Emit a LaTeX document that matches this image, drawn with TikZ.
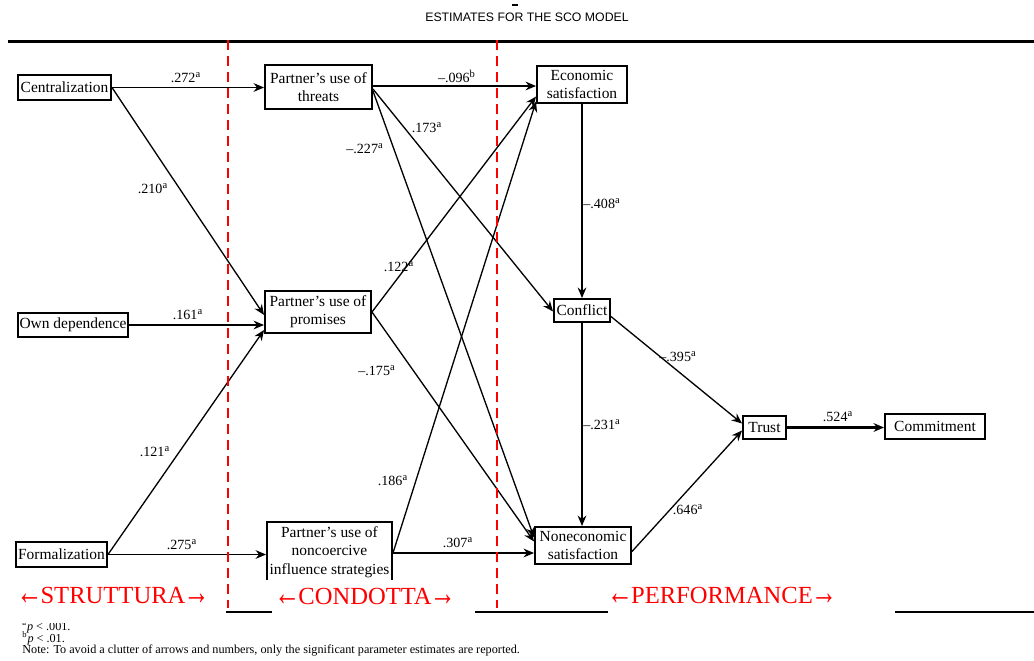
\documentclass[tikz,border=0pt]{standalone}
\usepackage{fontspec}
\setmainfont{Liberation Serif}
\newfontfamily\titlefont{Liberation Sans}
\usetikzlibrary{arrows.meta,calc}
\newcommand{\larr}{\raisebox{-0.12ex}{\scalebox{1.05}[1.5]{←}}\kern-1pt}
\newcommand{\rarr}{\kern-1pt\raisebox{-0.12ex}{\scalebox{1.05}[1.5]{→}}}
\begin{document}
\begin{tikzpicture}[x=0.02cm,y=-0.02cm,
  sz/.style 2 args={minimum width=#1*0.02cm, minimum height=#2*0.02cm},
  box/.style={draw, line width=1.1pt, inner sep=1pt, align=center,
    font=\fontsize{8.8}{10.4}\selectfont},
  link/.style={line width=0.75pt, -{Stealth[length=6pt,width=5pt,inset=2pt]}},
  est/.style={font=\fontsize{8}{8}\selectfont, inner sep=0pt},
  divider/.style={red, line width=1.3pt, dash pattern=on 5.7pt off 3.4pt},
  phase/.style={red, font=\fontsize{14}{14}\selectfont, inner sep=0pt},
  note/.style={font=\fontsize{6.95}{6.95}\selectfont, inner sep=0pt, anchor=west}]
\useasboundingbox (0,0) rectangle (1034,660);

% heading and rule
\node[font=\titlefont\fontsize{7}{7}\selectfont, inner sep=0pt] (title) at (527,17) {ESTIMATES FOR THE SCO MODEL};
\draw[line width=0.6pt] (512,5) -- (518,5);
\draw[line width=2.2pt] (8,41.5) -- (1034,41.5);

% constructs
\node[box, sz={93}{25}]  (cent)  at (64.5,87.5)  {Centralization};
\node[box, sz={110}{24}] (own)   at (73,325)     {Own dependence};
\node[box, sz={91}{25}]  (form)  at (61.5,554.5) {Formalization};
\node[box, sz={107}{44}] (thr)   at (318.5,87)   {Partner's use of\\threats};
\node[box, sz={106}{42}] (prom)  at (318,312)    {Partner's use of\\promises};
\node[box, sz={125}{60}] (nonc)  at (329.5,552)  {Partner's use of\\noncoercive\\influence strategies};
\node[box, sz={90}{37}]  (econ)  at (582,84.5)   {Economic\\satisfaction};
\node[box, sz={56}{23}]  (confl) at (582,310.5)  {Conflict};
\node[box, sz={96}{37}]  (nonec) at (583,545.5)  {Noneconomic\\satisfaction};
\node[box, sz={43}{23}]  (trust) at (764.5,427.5){Trust};
\node[box, sz={100}{25}] (comm)  at (935,426.5)  {Commitment};

% paths
\draw[link] (cent.east) -- (thr.west |- cent.east);
\draw[link] (cent.east) -- ($(prom.west)+(0,3)$);
\draw[link] (own.east) -- ($(prom.west)+(0,13)$);
\draw[link] (form.east) -- ($(prom.west)+(0,18)$);
\draw[link] (form.east) -- (nonc.west |- form.east);
\draw[link] ($(thr.east)+(0,-1)$) -- (econ.west |- {$(thr.east)+(0,-1)$});
\draw[link] ($(thr.east)+(0,2)$) -- ($(confl.west)+(0,1)$);
\draw[link] ($(thr.east)+(0,4)$) -- ($(nonec.west)+(0,-8)$);
\draw[link] (prom.east) -- ($(econ.west)+(0,12)$);
\draw[link] (prom.east) -- ($(nonec.west)+(0,-4)$);
\draw[link] ($(nonc.east)+(0,1)$) -- ($(econ.west)+(0,17)$);
\draw[link] ($(nonc.east)+(0,1)$) -- (nonec.west |- {$(nonc.east)+(0,1)$});
\draw[link] (econ.south) -- (confl.north);
\draw[link] (confl.south) -- (confl.south |- nonec.north);
\draw[link] ($(confl.east)+(0,6)$) -- ($(trust.west)+(0,-4)$);
\draw[link] ($(nonec.east)+(0,6)$) -- ($(trust.west)+(0,3)$);
\draw[link, line width=1.4pt] (trust.east) -- (comm.west |- trust.east);

% parameter estimates
\node[est] (e272) at (186,78)  {.272\textsuperscript{a}};
\node[est] (e210) at (153,189) {.210\textsuperscript{a}};
\node[est] (e161) at (188,315) {.161\textsuperscript{a}};
\node[est] (e121) at (155,452) {.121\textsuperscript{a}};
\node[est] (e275) at (182,545) {.275\textsuperscript{a}};
\node[est] (e096) at (457,76)  {–.096\textsuperscript{b}};
\node[est] (e173) at (427,128) {.173\textsuperscript{a}};
\node[est] (e227) at (365,149) {–.227\textsuperscript{a}};
\node[est] (e122) at (399,267) {.122\textsuperscript{a}};
\node[est] (e175) at (377,371) {–.175\textsuperscript{a}};
\node[est] (e186) at (393,481) {.186\textsuperscript{a}};
\node[est] (e307) at (458,543) {.307\textsuperscript{a}};
\node[est] (e408) at (602,204) {–.408\textsuperscript{a}};
\node[est] (e231) at (602,425) {–.231\textsuperscript{a}};
\node[est] (e395) at (678,357) {–.395\textsuperscript{a}};
\node[est] (e646) at (688,510) {.646\textsuperscript{a}};
\node[est] (e524) at (838,417) {.524\textsuperscript{a}};

% footnotes and closing rule
\node[note] (n1) at (22,627) {\textsuperscript{a}\textit{p} < .001.};
\node[note] (n2) at (22,638) {\textsuperscript{b}\textit{p} < .01.};
\node[note] (n3) at (22,651) {Note: To avoid a clutter of arrows and numbers, only the significant parameter estimates are reported.};
\draw[line width=1pt] (8,612) -- (1034,612);

% structure / conduct / performance bands
\draw[divider] (228,40) -- (228,608);
\draw[divider] (497,40) -- (497,608);
\fill[white] (0,582) rectangle (226,623);
\fill[white] (262,580) rectangle (272,609);
\fill[white] (272,580) rectangle (475,614);
\fill[white] (608,582) rectangle (895,614);
\node[phase] (s) at (113,596) {\larr STRUTTURA\rarr};
\node[phase] (c) at (365,597) {\larr CONDOTTA\rarr};
\node[phase] (p) at (722,596) {\larr PERFORMANCE\rarr};
\end{tikzpicture}
\end{document}
